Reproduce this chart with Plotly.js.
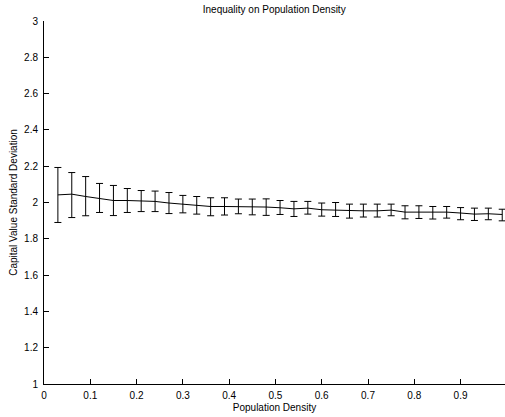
<!DOCTYPE html>
<html>
<head>
<meta charset="utf-8">
<script src="https://cdn.plot.ly/plotly-3.0.1.min.js"></script>
<style>html,body{margin:0;padding:0;background:#fff;}#chart{width:505px;height:417px;}</style>
</head>
<body>
<div id="chart"></div>
<script>
const density = [0.03,0.06,0.09,0.12,0.15,0.18,0.21,0.24,0.27,0.30,0.33,0.36,0.39,0.42,0.45,0.48,0.51,0.54,0.57,0.60,0.63,0.66,0.69,0.72,0.75,0.78,0.81,0.84,0.87,0.90,0.93,0.96,0.99];
const meanStd = [2.042,2.046,2.033,2.024,2.011,2.011,2.009,2.006,1.997,1.991,1.987,1.978,1.978,1.978,1.977,1.975,1.971,1.965,1.969,1.960,1.958,1.954,1.954,1.954,1.958,1.947,1.947,1.945,1.947,1.942,1.936,1.938,1.934];
const upper = [2.193,2.165,2.143,2.105,2.094,2.077,2.066,2.063,2.055,2.039,2.033,2.026,2.026,2.019,2.019,2.020,2.011,2.006,2.006,1.997,2.000,1.991,1.991,1.991,1.991,1.982,1.982,1.978,1.978,1.972,1.969,1.969,1.963];
const lower = [1.890,1.917,1.927,1.945,1.928,1.945,1.950,1.950,1.939,1.943,1.936,1.927,1.931,1.938,1.932,1.929,1.934,1.923,1.936,1.925,1.923,1.914,1.920,1.920,1.927,1.910,1.912,1.909,1.914,1.905,1.901,1.905,1.899];
const yTicks = [1,1.2,1.4,1.6,1.8,2,2.2,2.4,2.6,2.8,3];
const yTickLabels = ["1","1.2","1.4","1.6","1.8","2","2.2","2.4","2.6","2.8","3"];
const xTicks = [0,0.1,0.2,0.3,0.4,0.5,0.6,0.7,0.8,0.9];
const xTickLabels = ["0","0.1","0.2","0.3","0.4","0.5","0.6","0.7","0.8","0.9"];

const plus = upper.map((u,i)=>u-meanStd[i]);
const minus = lower.map((l,i)=>meanStd[i]-l);

const trace = {
  x: density, y: meanStd, type: 'scatter', mode: 'lines',
  line: {color: '#000', width: 1},
  error_y: {type: 'data', symmetric: false, array: plus, arrayminus: minus,
            color: '#000', thickness: 1, width: 3.5},
  showlegend: false, hoverinfo: 'skip'
};
const fnt = {family: 'Liberation Sans, Arial, Helvetica, sans-serif', size: 10, color: '#000'};
const layout = {
  width: 505, height: 417,
  margin: {l: 44, r: 0, t: 21, b: 33, pad: 0},
  paper_bgcolor: '#fff', plot_bgcolor: '#fff',
  font: fnt,
  title: {text: 'Inequality on Population Density', font: {family: fnt.family, size: 10, color: '#000'},
          x: 0.543, xanchor: 'center', y: 0.978, yanchor: 'middle'},
  xaxis: {range: [0, 0.996], tickvals: xTicks, ticktext: xTickLabels, ticks: 'inside', ticklen: 5,
          tickcolor: '#000', showline: true, linecolor: '#000', linewidth: 1, showgrid: false, zeroline: false,
          mirror: false, tickfont: fnt, ticklabelstandoff: 2,
          title: {text: 'Population Density', font: fnt, standoff: 3}},
  yaxis: {range: [1, 3], tickvals: yTicks, ticktext: yTickLabels, ticks: 'inside', ticklen: 5,
          tickcolor: '#000', showline: true, linecolor: '#000', linewidth: 1, showgrid: false, zeroline: false,
          mirror: false, tickfont: fnt, ticklabelstandoff: 3,
          title: {text: 'Capital Value Standard Deviation', font: fnt, standoff: 4}}
};
Plotly.newPlot('chart', [trace], layout, {displayModeBar: false, staticPlot: true});
</script>
</body>
</html>
